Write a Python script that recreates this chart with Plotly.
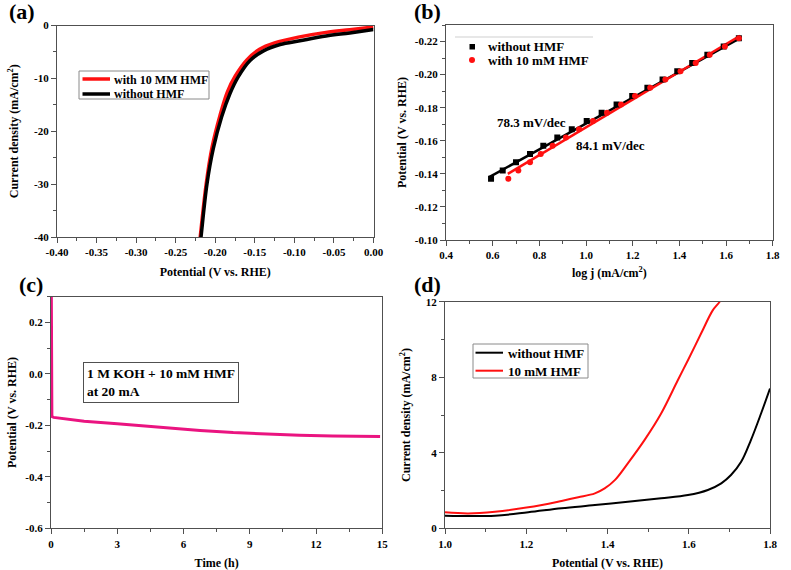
import plotly.graph_objects as go
from plotly.subplots import make_subplots

# (a) HER polarisation curves
her_v_hmf = [-0.2205, -0.219, -0.2115, -0.204, -0.194, -0.1845, -0.1745, -0.160, -0.144, -0.125, -0.095, -0.060, -0.030, 0.0]
her_j_hmf = [-42, -40, -30, -23, -17, -12.5, -9.5, -6.5, -4.5, -3.3, -2.2, -1.3, -0.8, -0.3]
her_v_blank = [-0.2195, -0.218, -0.2105, -0.2025, -0.192, -0.1815, -0.171, -0.156, -0.139, -0.118, -0.093, -0.060, -0.030, 0.0]
her_j_blank = [-42, -40, -30, -23.3, -17.3, -12.9, -9.7, -6.6, -4.8, -3.6, -2.9, -2.0, -1.4, -0.75]
her_v_ticks = [-0.40, -0.35, -0.30, -0.25, -0.20, -0.15, -0.10, -0.05, 0.0]
her_v_labels = ["-0.40", "-0.35", "-0.30", "-0.25", "-0.20", "-0.15", "-0.10", "-0.05", "0.00"]
her_j_ticks = [-40, -30, -20, -10, 0]
her_j_labels = ["-40", "-30", "-20", "-10", "0"]

# (b) Tafel plot
tafel_logj_blank = [0.593, 0.643, 0.700, 0.760, 0.817, 0.877, 0.939, 1.003, 1.067, 1.131, 1.198, 1.263, 1.328, 1.391, 1.455, 1.52, 1.59, 1.655]
tafel_v_blank = [-0.137, -0.142, -0.147, -0.152, -0.157, -0.162, -0.167, -0.172, -0.177, -0.182, -0.187, -0.192, -0.197, -0.202, -0.207, -0.212, -0.217, -0.222]
tafel_logj_hmf = [0.667, 0.710, 0.760, 0.806, 0.857, 0.914, 0.970, 1.030, 1.090, 1.150, 1.210, 1.275, 1.340, 1.405, 1.470, 1.530, 1.595, 1.655]
tafel_v_hmf = [-0.137, -0.142, -0.147, -0.152, -0.157, -0.162, -0.167, -0.172, -0.177, -0.182, -0.187, -0.192, -0.197, -0.202, -0.207, -0.212, -0.217, -0.222]
fit_logj_blank = [0.585, 1.66]
fit_v_blank = [-0.138, -0.222]
fit_logj_hmf = [0.665, 1.66]
fit_v_hmf = [-0.140, -0.2235]
tafel_v_ticks = [-0.22, -0.20, -0.18, -0.16, -0.14, -0.12, -0.10]
tafel_v_labels = ["-0.22", "-0.20", "-0.18", "-0.16", "-0.14", "-0.12", "-0.10"]

# (c) chronopotentiometry at 20 mA
time_h = [0.0, 0.04, 0.12, 1.5, 3.0, 4.5, 5.5, 6.75, 8.25, 9.75, 11.25, 12.75, 14.9]
pot_c = [0.6, -0.166, -0.169, -0.184, -0.194, -0.204, -0.213, -0.220, -0.228, -0.234, -0.238, -0.241, -0.2435]
pot_c_ticks = [-0.6, -0.4, -0.2, 0.0, 0.2]
pot_c_labels = ["-0.6", "-0.4", "-0.2", "0.0", "0.2"]

# (d) LSV with / without HMF
oer_v_blank = [1.0, 1.123, 1.205, 1.287, 1.369, 1.45, 1.532, 1.598, 1.647, 1.68, 1.704, 1.729, 1.753, 1.778, 1.8]
oer_j_blank = [0.67, 0.67, 0.85, 1.06, 1.23, 1.41, 1.59, 1.76, 2.03, 2.38, 2.82, 3.52, 4.67, 6.08, 7.4]
oer_v_hmf = [1.0, 1.057, 1.123, 1.205, 1.287, 1.328, 1.369, 1.393, 1.418, 1.45, 1.491, 1.532, 1.573, 1.598, 1.63, 1.659, 1.676, 1.69]
oer_j_hmf = [0.85, 0.79, 0.88, 1.11, 1.45, 1.64, 1.85, 2.11, 2.55, 3.44, 4.67, 6.08, 7.84, 8.9, 10.3, 11.54, 12.0, 12.6]

RED = "#ff1010"
PINK = "#ea1480"
FONT = "Liberation Serif"
W, H = 791, 570

fig = make_subplots(rows=2, cols=2)

# (a)
fig.add_trace(go.Scatter(x=her_v_hmf, y=her_j_hmf, mode="lines", name="with 10 MM HMF",
                         line=dict(color=RED, width=3.5, shape="spline")), row=1, col=1)
fig.add_trace(go.Scatter(x=her_v_blank, y=her_j_blank, mode="lines", name="without HMF",
                         line=dict(color="black", width=3.5, shape="spline")), row=1, col=1)

# (b)
fig.add_trace(go.Scatter(x=fit_logj_blank, y=fit_v_blank, mode="lines",
                         line=dict(color="black", width=2.5)), row=1, col=2)
fig.add_trace(go.Scatter(x=fit_logj_hmf, y=fit_v_hmf, mode="lines",
                         line=dict(color=RED, width=2.5)), row=1, col=2)
fig.add_trace(go.Scatter(x=tafel_logj_blank, y=tafel_v_blank, mode="markers", name="without HMF",
                         marker=dict(symbol="square", size=6, color="black")), row=1, col=2)
fig.add_trace(go.Scatter(x=tafel_logj_hmf, y=tafel_v_hmf, mode="markers", name="with 10 mM HMF",
                         marker=dict(symbol="circle", size=6, color=RED)), row=1, col=2)

# (c)
fig.add_trace(go.Scatter(x=time_h, y=pot_c, mode="lines",
                         line=dict(color=PINK, width=3)), row=2, col=1)

# (d)
fig.add_trace(go.Scatter(x=oer_v_blank, y=oer_j_blank, mode="lines", name="without HMF",
                         line=dict(color="black", width=2, shape="spline")), row=2, col=2)
fig.add_trace(go.Scatter(x=oer_v_hmf, y=oer_j_hmf, mode="lines", name="10 mM HMF",
                         line=dict(color=RED, width=2, shape="spline")), row=2, col=2)

tick_font = dict(family=FONT, size=11, color="black", weight="bold")
title_font = dict(family=FONT, size=12, color="black", weight="bold")
axis_style = dict(showline=True, linecolor="#505050", linewidth=1.3, mirror=True,
                  ticks="outside", ticklen=5, tickwidth=1.2, tickcolor="#505050", automargin=False,
                  showgrid=False, zeroline=False, tickfont=tick_font, title_font=title_font)
fig.update_xaxes(**axis_style)
fig.update_yaxes(**axis_style)


def dom_x(a, b):
    return [a / W, b / W]


def dom_y(top, bottom):
    return [1 - bottom / H, 1 - top / H]


def minor(dt):
    return dict(ticks="outside", ticklen=3, tickwidth=1, tickcolor="#505050", dtick=dt, showgrid=False)


fig.update_layout(
    xaxis=dict(domain=dom_x(57, 373.5), range=[-0.40, 0.0], tickvals=her_v_ticks, ticktext=her_v_labels,
               minor=minor(0.025), title=dict(text="Potential (V vs. RHE)", standoff=10)),
    yaxis=dict(domain=dom_y(25.5, 237), range=[-40, 0], tickvals=her_j_ticks, ticktext=her_j_labels,
               minor=minor(5), title=dict(text="Current density (mA/cm<sup>2</sup>)", standoff=12)),
    xaxis2=dict(domain=dom_x(446, 772.7), range=[0.4, 1.8], dtick=0.2, tickformat=".1f", minor=minor(0.1),
                title=dict(text="log j (mA/cm<sup>2</sup>)", standoff=8)),
    yaxis2=dict(domain=dom_y(25, 240), range=[-0.10, -0.23], tickvals=tafel_v_ticks, ticktext=tafel_v_labels,
                minor=minor(0.01), title=dict(text="Potential (V vs. RHE)", standoff=5)),
    xaxis3=dict(domain=dom_x(51, 382.3), range=[0, 15], dtick=3, minor=minor(1.5),
                title=dict(text="Time (h)", standoff=10)),
    yaxis3=dict(domain=dom_y(296.7, 528.3), range=[-0.6, 0.3], tickvals=pot_c_ticks, ticktext=pot_c_labels,
                minor=minor(0.1), title=dict(text="Potential (V vs. RHE)", standoff=6)),
    xaxis4=dict(domain=dom_x(445, 770), range=[1.0, 1.8], dtick=0.2, tickformat=".1f", minor=minor(0.1),
                title=dict(text="Potential (V vs. RHE)", standoff=10)),
    yaxis4=dict(domain=dom_y(301.7, 528.3), range=[0, 12], dtick=4, minor=minor(2),
                title=dict(text="Current density (mA/cm<sup>2</sup>)", standoff=12)),
    showlegend=False,
    width=W, height=H, margin=dict(l=0, r=0, t=0, b=0),
    paper_bgcolor="white", plot_bgcolor="white",
    font=dict(family=FONT, color="black"),
)


def px_x(v):
    return v / W


def px_y(v):
    return 1 - v / H


def legend_text(text, x, y, size):
    fig.add_annotation(text=text, xref="paper", yref="paper", x=px_x(x), y=px_y(y),
                       xanchor="left", yanchor="middle", showarrow=False,
                       font=dict(family=FONT, size=size, color="black", weight="bold"))


def legend_line(color, width, x0, x1, y):
    fig.add_shape(type="line", xref="paper", yref="paper", x0=px_x(x0), x1=px_x(x1), y0=px_y(y), y1=px_y(y),
                  line=dict(color=color, width=width))


def legend_box(x0, x1, y0, y1):
    fig.add_shape(type="rect", xref="paper", yref="paper", x0=px_x(x0), x1=px_x(x1), y0=px_y(y1), y1=px_y(y0),
                  line=dict(color="#8a8a8a", width=1), fillcolor="white", layer="above")


# legend of (a)
legend_box(79, 209, 71, 99)
legend_line(RED, 3.5, 82.5, 110, 79)
legend_line("black", 3.5, 82.5, 110, 94)
legend_text("with 10 MM HMF", 112, 79.5, 12)
legend_text("without HMF", 112, 94.5, 12)

# legend of (b): faint rule, square and circle samples
legend_line("#cfcfcf", 1, 455, 593, 37)
fig.add_shape(type="rect", xref="paper", yref="paper", x0=px_x(469.5), x1=px_x(475), y0=px_y(49.5), y1=px_y(44),
              line=dict(width=0), fillcolor="black")
fig.add_shape(type="circle", xref="paper", yref="paper", x0=px_x(469), x1=px_x(475), y0=px_y(63), y1=px_y(57),
              line=dict(width=0), fillcolor=RED)
legend_text("without HMF", 486, 46.5, 13)
legend_text("with 10 mM HMF", 486, 60, 13)

# legend of (d)
legend_box(473, 588, 344, 378)
legend_line("black", 2, 475.5, 503, 352.7)
legend_line(RED, 2, 475.5, 503, 370.7)
legend_text("without HMF", 506, 353, 13)
legend_text("10 mM HMF", 506, 371, 13)

label_font = dict(family=FONT, size=22, color="black", weight="bold")
for txt, px, py in [("(a)", 7, 11.5), ("(b)", 412, 11.5), ("(c)", 17, 284), ("(d)", 412, 284)]:
    fig.add_annotation(text=txt, xref="paper", yref="paper", x=px_x(px), y=px_y(py),
                       xanchor="left", yanchor="middle", showarrow=False, font=label_font)

slope_font = dict(family=FONT, size=13, color="black", weight="bold")
fig.add_annotation(text="78.3 mV/dec", xref="x2", yref="y2", x=0.768, y=-0.1713, xanchor="center",
                   showarrow=False, font=slope_font)
fig.add_annotation(text="84.1 mV/dec", xref="x2", yref="y2", x=1.106, y=-0.1574, xanchor="center",
                   showarrow=False, font=slope_font)

fig.add_annotation(text="1 M KOH + 10 mM HMF<br>at 20 mA", xref="paper", yref="paper",
                   x=px_x(83), y=px_y(362), xanchor="left", yanchor="top", align="left", showarrow=False,
                   bordercolor="#505050", borderwidth=1, borderpad=3, bgcolor="white",
                   font=dict(family=FONT, size=13.5, color="black", weight="bold"))

# the page's default body margin would shift the figure by 8 px
fig.write_html("out.html", config={"displayModeBar": False},
               post_script="document.body.style.margin = '0';")
